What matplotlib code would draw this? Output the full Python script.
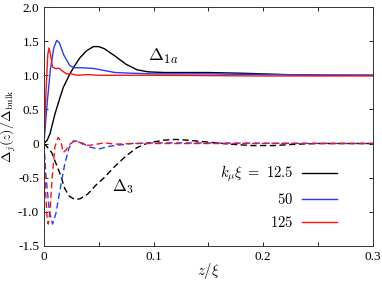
import numpy as np
import matplotlib
matplotlib.use('Agg')
import matplotlib.pyplot as plt

plt.rcParams['font.family'] = 'serif'
plt.rcParams['font.serif'] = ['Liberation Serif', 'DejaVu Serif']
plt.rcParams['mathtext.fontset'] = 'cm'

# Delta_1a (solid) for k_mu xi = 12.5, 50, 125
z_k12_s = [0, 0.003, 0.0055, 0.01, 0.014, 0.0176, 0.0237, 0.028, 0.033, 0.039, 0.045, 0.05,
           0.055, 0.065, 0.075, 0.085, 0.095, 0.11, 0.13, 0.15, 0.18, 0.2, 0.22, 0.25, 0.3]
d_k12_s = [0, 0.05, 0.14, 0.43, 0.64, 0.82, 1.02, 1.14, 1.26, 1.36, 1.42, 1.42,
           1.39, 1.28, 1.16, 1.08, 1.05, 1.04, 1.04, 1.04, 1.03, 1.02, 1.01, 1.0, 1.0]

z_k50_s = [0, 0.003, 0.006, 0.009, 0.0116, 0.014, 0.018, 0.0237, 0.028, 0.035, 0.045,
           0.055, 0.065, 0.08, 0.1, 0.15, 0.2, 0.3]
d_k50_s = [0, 0.6, 1.1, 1.4, 1.51, 1.48, 1.3, 1.14, 1.11, 1.11, 1.1,
           1.07, 1.04, 1.03, 1.02, 1.02, 1.01, 1.0]

z_k125_s = [0, 0.002, 0.0035, 0.0046, 0.006, 0.0079, 0.0104, 0.014, 0.017, 0.0207, 0.025,
            0.03, 0.04, 0.05, 0.1, 0.2, 0.3]
d_k125_s = [0, 0.8, 1.3, 1.40, 1.3, 1.12, 1.1, 1.1, 1.06, 1.02, 1.02,
            1.0, 1.01, 1.0, 1.0, 0.99, 0.99]

# Delta_3 (dashed)
z_k12_d = [0, 0.003, 0.007, 0.0146, 0.019, 0.023, 0.028, 0.033, 0.04, 0.048, 0.055, 0.065,
           0.075, 0.085, 0.095, 0.11, 0.12, 0.13, 0.15, 0.17, 0.19, 0.21, 0.23, 0.25, 0.3]
d_k12_d = [0, -0.05, -0.13, -0.44, -0.66, -0.77, -0.82, -0.81, -0.74, -0.6, -0.5, -0.33,
           -0.18, -0.06, 0.01, 0.05, 0.06, 0.05, 0.02, -0.01, -0.03, -0.03, -0.01, 0.0, 0.0]

z_k50_d = [0, 0.002, 0.005, 0.0079, 0.011, 0.015, 0.019, 0.023, 0.027, 0.031, 0.036, 0.041,
           0.05, 0.06, 0.07, 0.08, 0.1, 0.3]
d_k50_d = [0, -0.5, -1.0, -1.18, -1.02, -0.65, -0.3, -0.06, 0.04, 0.03, 0.0, -0.05,
           -0.08, -0.04, -0.02, 0.0, 0.01, 0.0]

z_k125_d = [0, 0.0015, 0.003, 0.004, 0.0055, 0.0075, 0.01, 0.013, 0.0155, 0.0176, 0.02,
            0.023, 0.027, 0.032, 0.038, 0.045, 0.055, 0.065, 0.08, 0.3]
d_k125_d = [0, -0.7, -1.12, -1.18, -1.0, -0.5, -0.05, 0.09, 0.03, -0.13, -0.1,
            -0.02, 0.03, 0.02, -0.03, -0.02, 0.01, -0.01, 0.0, 0.0]

fig = plt.figure(figsize=(3.82, 2.81), dpi=100)
ax = fig.add_axes([0.115, 0.125, 0.861, 0.85])

lw = 1.0
dash = (0, (4.5, 2.5))
ax.plot(z_k12_s, d_k12_s, color='black', lw=lw, label=r'$k_\mu\xi\ =\ 12.5$')
ax.plot(z_k50_s, d_k50_s, color='#2040ff', lw=lw, label='$50$')
ax.plot(z_k125_s, d_k125_s, color='#ff1010', lw=lw, label='$125$')
ax.plot(z_k12_d, d_k12_d, color='black', lw=lw, ls=dash)
ax.plot(z_k50_d, d_k50_d, color='#2040ff', lw=lw, ls=dash)
ax.plot(z_k125_d, d_k125_d, color='#ff1010', lw=lw, ls=dash)

ax.text(0.109, 1.27, r'$\Delta_{1a}$', fontsize=13, ha='center', va='center')
ax.text(0.072, -0.63, r'$\Delta_3$', fontsize=12, ha='center', va='center')

ax.set_xlim(0, 0.3)
ax.set_ylim(-1.5, 2.0)
ax.set_xticks([0, 0.05, 0.1, 0.15, 0.2, 0.25, 0.3])
ax.set_xticklabels(['0', '', '0.1', '', '0.2', '', '0.3'])
ax.set_yticks([-1.5, -1.0, -0.5, 0, 0.5, 1.0, 1.5, 2.0])
ax.set_yticklabels(['-1.5', '-1.0', '-0.5', '0', '0.5', '1.0', '1.5', '2.0'])
ax.tick_params(direction='in', top=True, right=True, labelsize=9.5, length=3, width=0.6)
for s in ax.spines.values():
    s.set_linewidth(0.7)
    s.set_color('#333333')

ax.set_xlabel(r'$z/\xi$', fontsize=10.5, labelpad=-1)
ax.set_ylabel(r'$\Delta_j(z)/\Delta_{\rm bulk}$', fontsize=10, labelpad=0)

ax.legend(loc='lower right', frameon=False, markerfirst=False, fontsize=10.5,
          handlelength=2.4, handletextpad=0.6, labelspacing=0.55,
          bbox_to_anchor=(0.93, 0.01))

fig.savefig('out.png', dpi=100)
